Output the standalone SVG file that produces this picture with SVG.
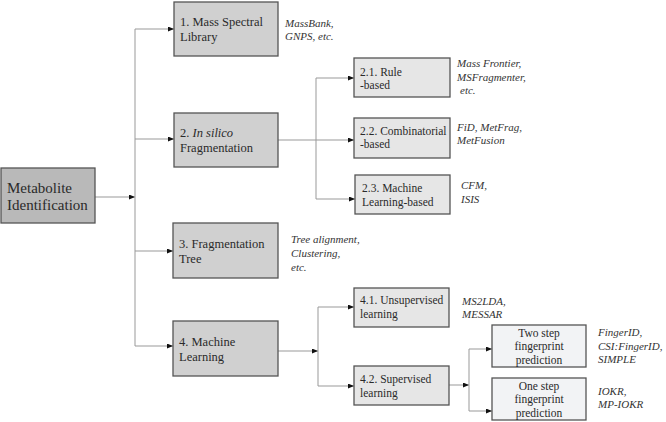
<svg xmlns="http://www.w3.org/2000/svg" width="666" height="422" viewBox="0 0 666 422">
<style>
text{font-family:"Liberation Serif","Times New Roman",serif;fill:#2a2a2a}
.main rect{fill:#d0d0d0;stroke:#555;stroke-width:1.3}
.root rect{fill:#b9b9b9;stroke:#555;stroke-width:1.3}
.sub rect{fill:#e6e6e6;stroke:#555;stroke-width:1.3}
.fp rect{fill:#f2f3f5;stroke:#555;stroke-width:1.3}
.root text{font-size:15px}
.main text{font-size:12.5px}
.sub text,.fp text{font-size:11.5px}
.fp text{text-anchor:middle}
.lab{font-size:11px;font-style:italic;fill:#333}
#connectors path{fill:none;stroke:#999;stroke-width:1}
</style>
<defs>
<marker id="ah" markerWidth="6" markerHeight="5" refX="6" refY="2.5" orient="auto" markerUnits="userSpaceOnUse">
<path d="M0,0 L6,2.5 L0,5 Z" fill="#111"/>
</marker>
</defs>
<rect width="666" height="422" fill="#fff"/>
<g id="connectors">
<path d="M95,197 H135" marker-end="url(#ah)"/>
<path d="M135,29 V346"/>
<path d="M135,29 H174" marker-end="url(#ah)"/>
<path d="M135,139 H174" marker-end="url(#ah)"/>
<path d="M135,251 H173" marker-end="url(#ah)"/>
<path d="M135,346 H173" marker-end="url(#ah)"/>
<path d="M278,140 H354" marker-end="url(#ah)"/>
<path d="M316,78 V199"/>
<path d="M316,78 H354" marker-end="url(#ah)"/>
<path d="M316,199 H355" marker-end="url(#ah)"/>
<path d="M278,351 H318" marker-end="url(#ah)"/>
<path d="M318,307 V386"/>
<path d="M318,307 H354" marker-end="url(#ah)"/>
<path d="M318,386 H354" marker-end="url(#ah)"/>
<path d="M449,385 H469" marker-end="url(#ah)"/>
<path d="M469,349 V411"/>
<path d="M469,349 H492" marker-end="url(#ah)"/>
<path d="M469,411 H492" marker-end="url(#ah)"/>
</g>
<g id="root" class="root">
<rect x="1" y="168" width="94" height="55"/>
<text x="7" y="193">Metabolite</text>
<text x="7" y="210">Identification</text>
</g>
<g id="n1" class="main">
<rect x="174" y="2" width="104" height="54"/>
<text x="180" y="26">1. Mass Spectral</text>
<text x="180" y="41">Library</text>
</g>
<g id="n2" class="main">
<rect x="174" y="113" width="104" height="54"/>
<text x="180" y="137">2. <tspan font-style="italic">In silico</tspan></text>
<text x="180" y="152">Fragmentation</text>
</g>
<g id="n3" class="main">
<rect x="173" y="223" width="105" height="55"/>
<text x="179" y="248">3. Fragmentation</text>
<text x="179" y="263">Tree</text>
</g>
<g id="n4" class="main">
<rect x="173" y="321" width="105" height="55"/>
<text x="179" y="346">4. Machine</text>
<text x="179" y="361">Learning</text>
</g>
<g id="n21" class="sub">
<rect x="354" y="58" width="96" height="39"/>
<text x="360" y="76">2.1. Rule</text>
<text x="360" y="89">-based</text>
</g>
<g id="n22" class="sub">
<rect x="354" y="118" width="96" height="40"/>
<text x="360" y="135">2.2. Combinatorial</text>
<text x="360" y="148">-based</text>
</g>
<g id="n23" class="sub">
<rect x="355" y="175" width="95" height="39"/>
<text x="362" y="192">2.3. Machine</text>
<text x="362" y="206">Learning-based</text>
</g>
<g id="n41" class="sub">
<rect x="354" y="288" width="95" height="39"/>
<text x="360" y="304">4.1. Unsupervised</text>
<text x="360" y="318">learning</text>
</g>
<g id="n42" class="sub">
<rect x="354" y="366" width="95" height="39"/>
<text x="360" y="383">4.2. Supervised</text>
<text x="360" y="397">learning</text>
</g>
<g id="nTwo" class="fp">
<rect x="492" y="325" width="94" height="42"/>
<text x="539" y="337">Two step</text>
<text x="539" y="350">fingerprint</text>
<text x="539" y="364">prediction</text>
</g>
<g id="nOne" class="fp">
<rect x="492" y="378" width="94" height="42"/>
<text x="539" y="390">One step</text>
<text x="539" y="403">fingerprint</text>
<text x="539" y="417">prediction</text>
</g>
<g id="labels">
<text class="lab" x="285" y="27">MassBank,</text>
<text class="lab" x="285" y="40">GNPS, etc.</text>
<text class="lab" x="457" y="67">Mass Frontier,</text>
<text class="lab" x="457" y="81">MSFragmenter,</text>
<text class="lab" x="460" y="94">etc.</text>
<text class="lab" x="457" y="131">FiD, MetFrag,</text>
<text class="lab" x="457" y="144">MetFusion</text>
<text class="lab" x="461" y="189">CFM,</text>
<text class="lab" x="461" y="203">ISIS</text>
<text class="lab" x="291" y="243">Tree alignment,</text>
<text class="lab" x="291" y="257">Clustering,</text>
<text class="lab" x="291" y="271">etc.</text>
<text class="lab" x="462" y="305">MS2LDA,</text>
<text class="lab" x="462" y="318">MESSAR</text>
<text class="lab" x="598" y="336">FingerID,</text>
<text class="lab" x="598" y="350">CSI:FingerID,</text>
<text class="lab" x="598" y="363">SIMPLE</text>
<text class="lab" x="598" y="395">IOKR,</text>
<text class="lab" x="598" y="408">MP-IOKR</text>
</g>
</svg>
